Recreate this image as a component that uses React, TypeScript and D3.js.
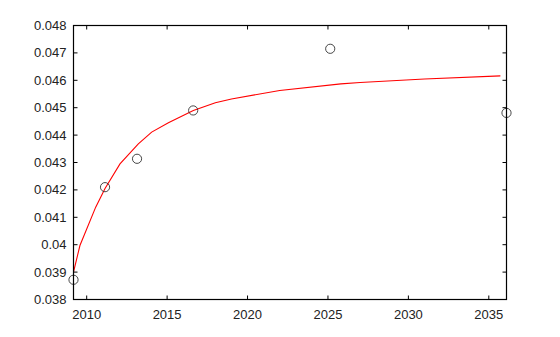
import React from "react";
import * as d3 from "d3";

const obsX = [2009.18, 2011.14, 2013.13, 2016.62, 2025.14, 2036.1];
const obsY = [0.03872, 0.0421, 0.043135, 0.0449, 0.04715, 0.04481];

const fitX = [2009.18, 2009.58, 2010.56, 2011.14, 2012.07, 2013.21, 2014.04, 2015.08, 2016.63, 2018.0, 2019.0, 2022.0, 2025.8, 2027.0, 2031.0, 2035.72];
const fitY = [0.039, 0.03997, 0.04137, 0.04205, 0.04295, 0.04368, 0.04411, 0.04445, 0.0449, 0.04518, 0.04532, 0.04563, 0.04587, 0.04592, 0.04605, 0.04616];

const xTicks = [2010, 2015, 2020, 2025, 2030, 2035];
const yTicks = [0.038, 0.039, 0.04, 0.041, 0.042, 0.043, 0.044, 0.045, 0.046, 0.047, 0.048];

const W = 560, H = 337;
const L = 73.5, R = 506.5, T = 25.5, B = 299.5;

export default function App() {
  const x = d3.scaleLinear().domain([2009.18, 2036.1]).range([L, R]);
  const y = d3.scaleLinear().domain([0.038, 0.048]).range([B, T]);
  const line = d3.line<number>().x((d, i) => x(fitX[i])).y((d) => y(d));
  const font = "'Liberation Sans', Arial, Helvetica, sans-serif";
  const tk = 4;
  return (
    <svg width={W} height={H} style={{ position: "absolute", left: 0, top: 0 }}>
      <rect x={0} y={0} width={W} height={H} fill="#fff" />
      <path d={line(fitY) || ""} fill="none" stroke="#ff0000" strokeWidth={1.1} />
      {obsX.map((v, i) => (
        <circle key={i} cx={x(v)} cy={y(obsY[i])} r={4.6} fill="none" stroke="#333" strokeWidth={0.9} />
      ))}
      <rect x={L} y={T} width={R - L} height={B - T} fill="none" stroke="#000" strokeWidth={1.2} />
      {xTicks.map((t) => (
        <g key={t}>
          <line x1={x(t)} x2={x(t)} y1={B} y2={B - tk} stroke="#000" />
          <line x1={x(t)} x2={x(t)} y1={T} y2={T + tk} stroke="#000" />
          <text x={x(t)} y={B + 19} textAnchor="middle" fontFamily={font} fontSize={13} fill="#222">{t}</text>
        </g>
      ))}
      {yTicks.map((t) => (
        <g key={t}>
          <line x1={L} x2={L + tk} y1={y(t)} y2={y(t)} stroke="#000" />
          <line x1={R} x2={R - tk} y1={y(t)} y2={y(t)} stroke="#000" />
          <text x={L - 7} y={y(t) + 4.5} textAnchor="end" fontFamily={font} fontSize={13} fill="#222">{String(+t.toFixed(3))}</text>
        </g>
      ))}
    </svg>
  );
}
